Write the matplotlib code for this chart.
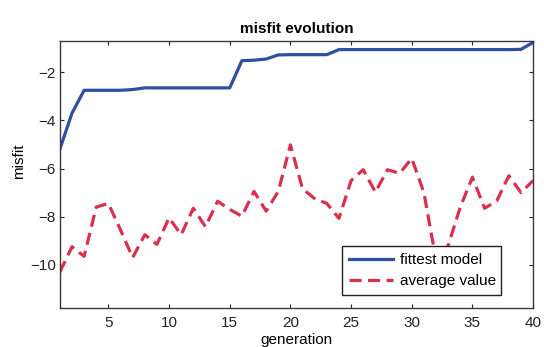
import matplotlib
matplotlib.use("Agg")
import matplotlib.pyplot as plt
import numpy as np

plt.rcParams['font.family'] = ['Liberation Sans', 'DejaVu Sans']

# misfit per generation
generation = list(range(1, 41))
fittest_model = [-5.2, -3.7, -2.75, -2.75, -2.75, -2.75, -2.72, -2.65, -2.65, -2.65,
                 -2.65, -2.65, -2.65, -2.65, -2.65, -1.52, -1.5, -1.45, -1.28, -1.27,
                 -1.27, -1.27, -1.27, -1.06, -1.06, -1.06, -1.06, -1.06, -1.06, -1.06,
                 -1.06, -1.06, -1.06, -1.06, -1.06, -1.06, -1.06, -1.06, -1.05, -0.76]
average_value = [-10.3, -9.25, -9.65, -7.6, -7.45, -8.55, -9.7, -8.75, -9.15, -8.05,
                 -8.75, -7.65, -8.42, -7.36, -7.7, -7.98, -6.95, -7.77, -6.95, -5.02,
                 -6.84, -7.25, -7.45, -8.07, -6.5, -6.05, -6.98, -6.05, -6.2, -5.58,
                 -7.0, -9.8, -9.2, -7.6, -6.36, -7.65, -7.35, -6.3, -7.0, -6.5]

x_ticks = [5, 10, 15, 20, 25, 30, 35, 40]
y_ticks = [-10, -8, -6, -4, -2]

fig = plt.figure(figsize=(5.44, 3.47), dpi=100)
ax = fig.add_axes([0.110, 0.112, 0.870, 0.770])

ax.plot(generation, fittest_model, color='#2f4f9f', lw=2.3, label='fittest model',
        solid_joinstyle='round')
ax.plot(generation, average_value, color='#d9304f', lw=2.3, label='average value',
        dashes=(3.8, 2.0))

ax.set_xlim(1, 40)
ax.set_ylim(-11.8, -0.7)
ax.set_xticks(x_ticks)
ax.set_yticks(y_ticks)
ax.tick_params(direction='in', length=3, width=0.8, top=True, right=True,
               labelsize=11, colors='#222222')
ax.tick_params(axis='x', pad=6)
ax.tick_params(axis='y', pad=3)
for s in ax.spines.values():
    s.set_color('#3a3a3a')
    s.set_linewidth(1.0)

ax.set_title('misfit evolution', fontsize=11, fontweight='bold', pad=6)
ax.set_xlabel('generation', fontsize=11, labelpad=2)
ax.set_ylabel('misfit', fontsize=11)
ax.yaxis.set_label_coords(-0.072, 0.55)

leg = ax.legend(loc='lower left', bbox_to_anchor=(0.596, 0.049, 0.336, 0.177),
                mode='expand', fontsize=11, frameon=True, fancybox=False,
                edgecolor='#222222', framealpha=1.0, borderpad=0.45,
                handlelength=2.9, handletextpad=0.45, labelspacing=0.45,
                borderaxespad=0)
leg.get_frame().set_linewidth(1.0)
leg.set_zorder(10)

fig.savefig('out.png', dpi=100)
